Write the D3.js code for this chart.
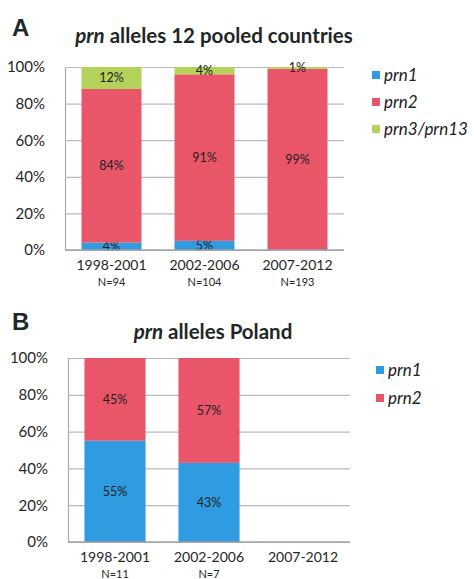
<!DOCTYPE html>
<html><head><meta charset="utf-8">
<script src="https://cdn.jsdelivr.net/npm/d3@7"></script>
<style>
html,body{margin:0;padding:0;background:#fff;}
svg{display:block;font-family:Lato,"Open Sans",sans-serif;}
</style></head>
<body>
<svg id="chart" width="474" height="579"></svg>
<script>
// ---- data ----
const categories = ["1998-2001", "2002-2006", "2007-2012"];
const yTicks = [0, 20, 40, 60, 80, 100];
const seriesNamesA = ["prn1", "prn2", "prn3/prn13"];
const pooledPrn1 = [4, 5, 0];
const pooledPrn2 = [84, 91, 99];
const pooledPrn3 = [12, 4, 1];
const pooledN = ["N=94", "N=104", "N=193"];
const seriesNamesB = ["prn1", "prn2"];
const polandPrn1 = [55, 43, 0];
const polandPrn2 = [45, 57, 0];
const polandN = ["N=11", "N=7", ""];
const colors = {"prn1": "#2f9be0", "prn2": "#e9566a", "prn3/prn13": "#b3d35a"};

const svg = d3.select("#chart");

function drawPanel(opt) {
  const g = svg.append("g");
  const x = d3.scaleBand().domain(categories).range([opt.x0, opt.x1])
    .paddingInner(opt.padIn).paddingOuter(opt.padIn / 2);
  const y = d3.scaleLinear().domain([0, 100]).range([opt.yBottom, opt.yTop]);

  // gridlines + y axis
  const yAxis = d3.axisLeft(y).tickValues(yTicks).tickFormat(d => d + "%")
    .tickSizeInner(-(opt.x1 - opt.x0)).tickSizeOuter(0).tickPadding(20);
  const ya = g.append("g").attr("transform", `translate(${opt.x0},0)`).call(yAxis);
  ya.select(".domain").attr("stroke", "#a8a8b0").attr("stroke-width", 1.2);
  ya.selectAll(".tick line").attr("stroke", "#b8b8c8").attr("stroke-width", 1.2);
  ya.selectAll(".tick text").attr("fill", "#262626").style("font-size", "15px")
    .style("font-family", "Lato, sans-serif");

  // stacked bars
  const keys = opt.names;
  const rows = categories.map((c, i) => {
    const o = {cat: c};
    keys.forEach((k, j) => o[k] = opt.series[j][i]);
    return o;
  });
  const stack = d3.stack().keys(keys)(rows);
  stack.forEach(layer => {
    const lg = g.append("g");
    lg.selectAll("rect").data(layer).join("rect")
      .attr("x", d => x(d.data.cat))
      .attr("width", x.bandwidth())
      .attr("y", d => y(d[1]))
      .attr("height", d => y(d[0]) - y(d[1]))
      .attr("fill", colors[layer.key]);
    lg.selectAll("text").data(layer.filter(d => d[1] - d[0] > 0)).join("text")
      .attr("x", d => x(d.data.cat) + x.bandwidth() / 2)
      .attr("y", d => (y(d[0]) + y(d[1])) / 2)
      .attr("dy", "0.35em")
      .attr("text-anchor", "middle")
      .style("font-size", "12.5px")
      .attr("fill", "#1e1e1e")
      .text(d => (d[1] - d[0]) + "%");
  });

  // bottom axis line
  const xAxis = d3.axisBottom(x).tickSize(0).tickPadding(10);
  const xa = g.append("g").attr("transform", `translate(0,${opt.yBottom})`).call(xAxis);
  xa.select(".domain").attr("stroke", "#a0a0a8").attr("stroke-width", 1.5)
    .attr("d", `M${opt.x0},0H${opt.x1}`);
  xa.selectAll(".tick text").attr("fill", "#262626").style("font-size", "14px")
    .style("font-family", "Lato, sans-serif").attr("dy", "0.71em");
  xa.selectAll(".tick").append("text")
    .attr("y", 28).attr("dy", "0.71em").attr("fill", "#262626")
    .style("font-size", "11px").style("font-family", "Lato, sans-serif")
    .text((d, i) => opt.nLabels[i]);

  // title
  const t = g.append("text").attr("x", opt.titleX).attr("y", opt.titleY)
    .attr("text-anchor", "middle").attr("font-weight", "bold")
    .style("font-size", "20.5px").attr("fill", "#1e2626");
  t.append("tspan").attr("font-style", "italic").text("prn");
  t.append("tspan").text(" " + opt.title);

  // panel letter
  g.append("text").attr("x", 12).attr("y", opt.letterY)
    .style("font-family", "'Liberation Sans', Arial, sans-serif")
    .attr("font-weight", "bold").style("font-size", "24px").attr("fill", "#1e2a2a")
    .text(opt.letter);

  // legend
  const leg = g.append("g");
  keys.forEach((k, i) => {
    const yy = opt.legY + i * opt.legStep;
    leg.append("rect").attr("x", opt.legX).attr("y", yy - 4).attr("width", 8).attr("height", 8)
      .attr("fill", colors[k]);
    leg.append("text").attr("x", opt.legX + 12).attr("y", yy).attr("dy", "0.35em")
      .attr("font-style", "italic").style("font-size", "17px").attr("fill", "#222")
      .text(k);
  });
}

drawPanel({
  x0: 65, x1: 344, yTop: 67, yBottom: 250, padIn: 0.355,
  names: seriesNamesA, series: [pooledPrn1, pooledPrn2, pooledPrn3], nLabels: pooledN,
  title: "alleles 12 pooled countries", titleX: 214, titleY: 43,
  letter: "A", letterY: 36, legX: 372, legY: 75, legStep: 27
});
drawPanel({
  x0: 68, x1: 350, yTop: 358, yBottom: 542, padIn: 0.35,
  names: seriesNamesB, series: [polandPrn1, polandPrn2], nLabels: polandN,
  title: "alleles Poland", titleX: 213, titleY: 339,
  letter: "B", letterY: 330, legX: 376, legY: 370, legStep: 28
});
</script>
</body></html>
